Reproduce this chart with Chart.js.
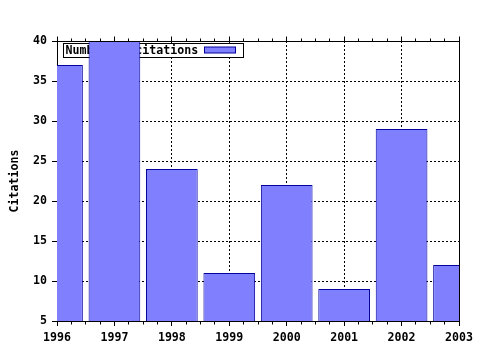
<!DOCTYPE html>
<html>
<head>
<meta charset="UTF-8" />
<title>Number of citations</title>
<script src="https://cdn.jsdelivr.net/npm/chart.js@4/dist/chart.umd.min.js"></script>
<style>
  body { margin: 0; background: #ffffff; }
  #wrap { width: 480px; height: 350px; }
</style>
</head>
<body>
<div id="wrap"><canvas id="citeChart" width="480" height="350"></canvas></div>
<script>
const years = [1996, 1997, 1998, 1999, 2000, 2001, 2002, 2003];
const citations = [37, 40, 24, 11, 22, 9, 29, 12];
const yTicks = [5, 10, 15, 20, 25, 30, 35, 40];
const seriesLabel = "Number of citations";
const axisTitle = "Citations";

const fontFamily = "'DejaVu Sans Mono', 'Liberation Mono', monospace";
const fontSize = 11.6;
const barFill = "#8080ff";
const barEdge = "#00009c";

function align(px) {
  return Math.round(px - 0.5) + 0.5;
}

// frame, minor ticks on top/bottom, plus the boxed legend drawn under the bars
const framePlugin = {
  id: "frame",
  beforeDatasetsDraw(chart) {
    const ctx = chart.ctx;
    const area = chart.chartArea;
    const x0 = area.left + 6.5;
    const y0 = area.top + 2.5;
    ctx.save();
    ctx.fillStyle = "#ffffff";
    ctx.fillRect(x0, y0, 180, 14);
    ctx.strokeStyle = "#000000";
    ctx.lineWidth = 1;
    ctx.strokeRect(x0, y0, 180, 14);
    ctx.font = "bold " + fontSize + "px " + fontFamily;
    ctx.fillStyle = "#000000";
    ctx.textBaseline = "middle";
    ctx.fillText(seriesLabel, x0 + 2, y0 + 7.5);
    ctx.fillStyle = barFill;
    ctx.fillRect(x0 + 141, y0 + 3.5, 31, 6);
    ctx.strokeStyle = barEdge;
    ctx.strokeRect(x0 + 141, y0 + 3.5, 31, 6);
    ctx.restore();
  },
  afterDatasetsDraw(chart) {
    const ctx = chart.ctx;
    const area = chart.chartArea;
    const xs = chart.scales.x;
    const ys = chart.scales.y;
    const top = align(ys.getPixelForValue(yTicks[yTicks.length - 1]));
    const bottom = align(ys.getPixelForValue(yTicks[0]));
    const right = align(xs.getPixelForValue(years[years.length - 1]));
    const left = align(xs.getPixelForValue(years[0]));
    ctx.save();
    ctx.strokeStyle = "#000000";
    ctx.lineWidth = 1;
    ctx.beginPath();
    ctx.moveTo(left, top);
    ctx.lineTo(right, top);
    ctx.lineTo(right, bottom);
    for (let y = years[0]; y < years[years.length - 1]; y++) {
      for (let q = 1; q < 4; q++) {
        const px = align(xs.getPixelForValue(y + q / 4));
        ctx.moveTo(px, bottom);
        ctx.lineTo(px, bottom + 3);
        ctx.moveTo(px, top);
        ctx.lineTo(px, top - 3);
      }
    }
    years.forEach((y) => {
      const px = align(xs.getPixelForValue(y));
      ctx.moveTo(px, top);
      ctx.lineTo(px, top - 5);
    });
    ctx.stroke();
    ctx.restore();
  },
};

const ctx = document.getElementById("citeChart");

new Chart(ctx, {
  type: "bar",
  data: {
    datasets: [
      {
        label: seriesLabel,
        data: years.map((y, i) => ({ x: y, y: citations[i] })),
        backgroundColor: barFill,
        borderColor: barEdge,
        borderWidth: 1,
        borderSkipped: false,
        barPercentage: 0.9,
        categoryPercentage: 1.0,
        clip: 0,
      },
    ],
  },
  options: {
    responsive: false,
    animation: false,
    layout: { padding: { top: 41, right: 21, bottom: 0, left: 0 } },
    plugins: {
      legend: { display: false },
      tooltip: { enabled: false },
    },
    scales: {
      x: {
        type: "linear",
        min: years[0],
        max: years[years.length - 1],
        offset: false,
        grid: {
          offset: false,
          color: "#000000",
          lineWidth: 1,
          tickLength: 5,
          tickColor: "#000000",
        },
        border: { display: true, color: "#000000", width: 1, dash: [2, 2] },
        ticks: {
          stepSize: 1,
          autoSkip: false,
          maxRotation: 0,
          padding: 5,
          color: "#000000",
          font: { family: fontFamily, size: fontSize, weight: "bold" },
          callback: (v) => String(v),
        },
        afterFit(scale) {
          scale.height = 29;
        },
      },
      y: {
        min: yTicks[0],
        max: yTicks[yTicks.length - 1],
        grid: {
          color: "#000000",
          lineWidth: 1,
          tickLength: 5,
          tickColor: "#000000",
        },
        border: { display: true, color: "#000000", width: 1, dash: [2, 2] },
        afterBuildTicks(scale) {
          scale.ticks = yTicks.map((v) => ({ value: v }));
        },
        ticks: {
          padding: 5,
          color: "#000000",
          font: { family: fontFamily, size: fontSize, weight: "bold" },
        },
        title: {
          display: true,
          text: axisTitle,
          color: "#000000",
          padding: { top: 8, bottom: 0 },
          font: { family: fontFamily, size: fontSize, weight: "bold" },
        },
        afterFit(scale) {
          scale.width = 57;
        },
      },
    },
  },
  plugins: [framePlugin],
});
</script>
</body>
</html>
